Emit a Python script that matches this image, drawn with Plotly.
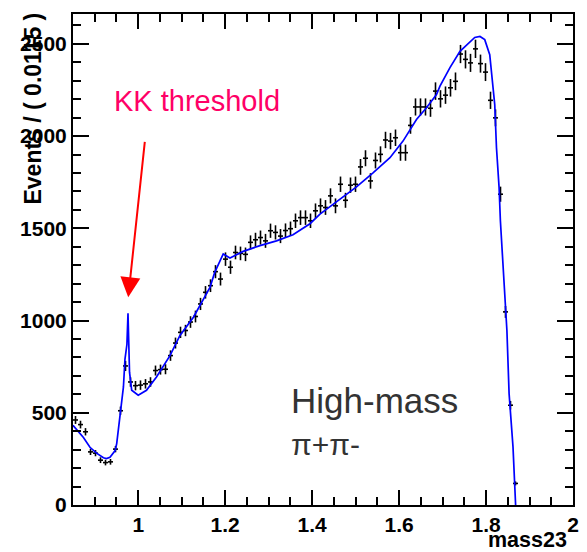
import numpy as np
import plotly.graph_objects as go

# ---- data (histogram of mass23, 100 bins from 0.85 to 2.0; only filled bins listed) ----
x_min, x_max, n_bins = 0.85, 2.0, 100
counts = [
    461, 436, 397, 288, 281, 243, 230, 234, 303, 511,
    754, 667, 647, 650, 657, 667, 729, 734, 736, 810,
    878, 936, 946, 992, 1022, 1090, 1153, 1189, 1265, 1225,
    1333, 1289, 1369, 1364, 1359, 1424, 1438, 1450, 1432, 1487,
    1478, 1458, 1488, 1498, 1541, 1558, 1558, 1541, 1595, 1622,
    1613, 1676, 1622, 1739, 1652, 1734, 1739, 1833, 1880, 1757,
    1868, 1901, 1979, 1973, 1991, 1910, 1910, 2058, 2158, 2158,
    2158, 2151, 2244, 2202, 2222, 2262, 2297, 2445, 2416, 2397,
    2473, 2393, 2347, 2194, 2099, 1685, 1047, 541, 117,
]

# ---- fit curve ----
fit_x = [0.850, 0.862, 0.874, 0.889, 0.905, 0.920, 0.927, 0.935, 0.947, 0.9505,
         0.954, 0.962, 0.966, 0.9695, 0.9740, 0.9765, 0.9780, 0.9800, 0.985, 1.000,
         1.019, 1.042, 1.073, 1.096, 1.127, 1.165, 1.176, 1.1955, 1.211, 1.2415,
         1.280, 1.318, 1.356, 1.395, 1.418, 1.464, 1.502, 1.540, 1.579, 1.609,
         1.640, 1.663, 1.686, 1.694, 1.717, 1.740, 1.774, 1.786, 1.797, 1.8085,
         1.816, 1.820, 1.824, 1.830, 1.833, 1.848, 1.853, 1.862, 1.868]
fit_y = [432, 400, 366, 313, 280, 256, 252, 259, 295, 333,
         402, 550, 640, 790, 870, 1040, 880, 720, 622, 595,
         622, 694, 810, 919, 1018, 1180, 1261, 1361, 1339, 1375,
         1406, 1432, 1465, 1525, 1577, 1657, 1725, 1801, 1883, 1973,
         2090, 2154, 2225, 2271, 2371, 2460, 2535, 2540, 2523, 2441,
         2280, 2171, 1937, 1721, 1541, 946, 604, 315, 0]

x_tick_vals = [1, 1.2, 1.4, 1.6, 1.8, 2]
x_tick_text = ["1", "1.2", "1.4", "1.6", "1.8", "2"]
y_tick_vals = [0, 500, 1000, 1500, 2000, 2500]
y_tick_text = ["0", "500", "1000", "1500", "2000", "2500"]

bin_w = (x_max - x_min) / n_bins
centers = x_min + bin_w * (np.arange(len(counts)) + 0.5)
errs = np.sqrt(np.array(counts, dtype=float))

fig = go.Figure()
fig.add_trace(go.Scatter(
    x=centers, y=counts, mode="markers",
    marker=dict(size=1, color="black"),
    error_y=dict(type="data", array=errs, color="black", thickness=1.6, width=0),
    error_x=dict(type="constant", value=bin_w / 2, color="black", thickness=1.6, width=0),
    showlegend=False, hoverinfo="skip",
))
fig.add_trace(go.Scatter(
    x=fit_x, y=fit_y, mode="lines",
    line=dict(color="#0000FF", width=1.7),
    showlegend=False, hoverinfo="skip",
))

tickfont = dict(family="Liberation Sans", size=21, color="black", weight="bold")
fig.update_xaxes(
    range=[x_min, x_max], tickvals=x_tick_vals, ticktext=x_tick_text,
    ticks="inside", ticklen=15, tickwidth=2, tickcolor="black",
    minor=dict(dtick=0.05, tick0=0.85, ticks="inside", ticklen=8, tickwidth=2, tickcolor="black"),
    showline=True, linecolor="black", linewidth=2, mirror="allticks",
    showgrid=False, zeroline=False, tickfont=tickfont,
)
fig.update_yaxes(
    range=[0, 2662], tickvals=y_tick_vals, ticktext=y_tick_text,
    ticks="inside", ticklen=16, tickwidth=2, tickcolor="black",
    minor=dict(dtick=100, tick0=0, ticks="inside", ticklen=8, tickwidth=2, tickcolor="black"),
    showline=True, linecolor="black", linewidth=2, mirror="allticks",
    showgrid=False, zeroline=False, tickfont=tickfont,
)

fig.update_layout(
    width=579, height=544,
    margin=dict(l=65, r=14, t=4, b=47),
    paper_bgcolor="white", plot_bgcolor="white",
    annotations=[
        dict(text="Events / ( 0.0115 )", textangle=-90, xref="paper", yref="paper",
             x=-0.08, y=1.005, xanchor="center", yanchor="top", showarrow=False,
             font=dict(family="Liberation Sans", size=23, color="black", weight="bold"),
             borderpad=0),
        dict(text="mass23", xref="paper", yref="paper", x=0.99, y=-0.071,
             xanchor="right", yanchor="middle", showarrow=False,
             font=dict(family="Liberation Sans", size=21.5, color="black", weight="bold"),
             borderpad=0),
        dict(text="KK threshold", xref="paper", yref="paper", x=0.0806, y=0.822,
             xanchor="left", yanchor="middle", showarrow=False,
             font=dict(family="Liberation Sans", size=29, color="#FF0066"), borderpad=0),
        dict(text="", x=0.977, y=1126, ax=1.0155, ay=1977, axref="x", ayref="y",
             xref="x", yref="y", showarrow=True, arrowhead=2, arrowsize=2.0,
             arrowwidth=2, arrowcolor="#FF0000"),
        dict(text="High-mass", xref="paper", yref="paper", x=0.434, y=0.212,
             xanchor="left", yanchor="middle", showarrow=False,
             font=dict(family="Liberation Sans", size=35, color="#333333"), borderpad=0),
        dict(text="π+π-", xref="paper", yref="paper", x=0.434, y=0.124,
             xanchor="left", yanchor="middle", showarrow=False,
             font=dict(family="Liberation Sans", size=30, color="#333333"), borderpad=0),
    ],
)

fig.write_html("out.html")
